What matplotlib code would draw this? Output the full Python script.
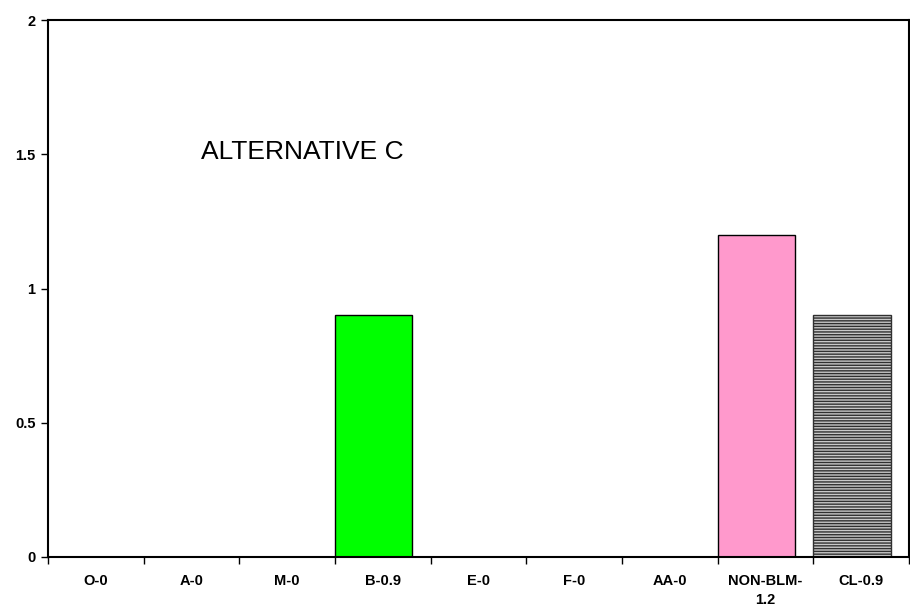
import matplotlib.pyplot as plt

plt.rcParams['font.family'] = ['Liberation Sans', 'DejaVu Sans']
plt.rcParams['hatch.linewidth'] = 1.0

categories = ["O-0", "A-0", "M-0", "B-0.9", "E-0", "F-0", "AA-0", "NON-BLM-\n1.2", "CL-0.9"]
values = [0, 0, 0, 0.9, 0, 0, 0, 1.2, 0.9]
colors = ["white", "white", "white", "#00ff00", "white", "white", "white", "#ff99cc", "#c8c8c8"]
hatches = [None] * 8 + ["------"]

fig = plt.figure(figsize=(9.1, 6.11), dpi=100)
ax = fig.add_axes([48 / 910, 54 / 611, 861 / 910, 537 / 611])

x = list(range(len(categories)))
for i in x:
    if values[i] == 0:
        continue
    ax.bar(i + 0.0, values[i], width=0.81, align='edge', color=colors[i],
           edgecolor='black', linewidth=1.0, hatch=hatches[i])
# hatch lines in dark grey
for p in ax.patches:
    if p.get_hatch():
        p.set_edgecolor('#303030')
        p.set_linewidth(1.0)

ax.set_xlim(0, len(categories))
ax.set_ylim(0, 2)
ax.set_yticks([0, 0.5, 1, 1.5, 2])
ax.set_yticklabels(["0", "0.5", "1", "1.5", "2"], fontsize=10.5, fontweight='bold')
ax.set_xticks(range(len(categories) + 1))
ax.set_xticklabels([])
ax.set_xticks([i + 0.5 for i in x], minor=True)
ax.set_xticklabels(categories, minor=True, fontsize=10.5, fontweight='bold', va='top',
                   linespacing=1.5)
ax.tick_params(axis='x', which='minor', length=0, pad=12)
ax.tick_params(axis='x', which='major', direction='out', length=5, width=1)
ax.tick_params(axis='y', direction='out', length=5, width=1, pad=4)

for s in ax.spines.values():
    s.set_linewidth(1.5)

ax.text(1.6, 1.51, "ALTERNATIVE C", fontsize=19, ha='left', va='center')

fig.savefig("out.png", dpi=100)
